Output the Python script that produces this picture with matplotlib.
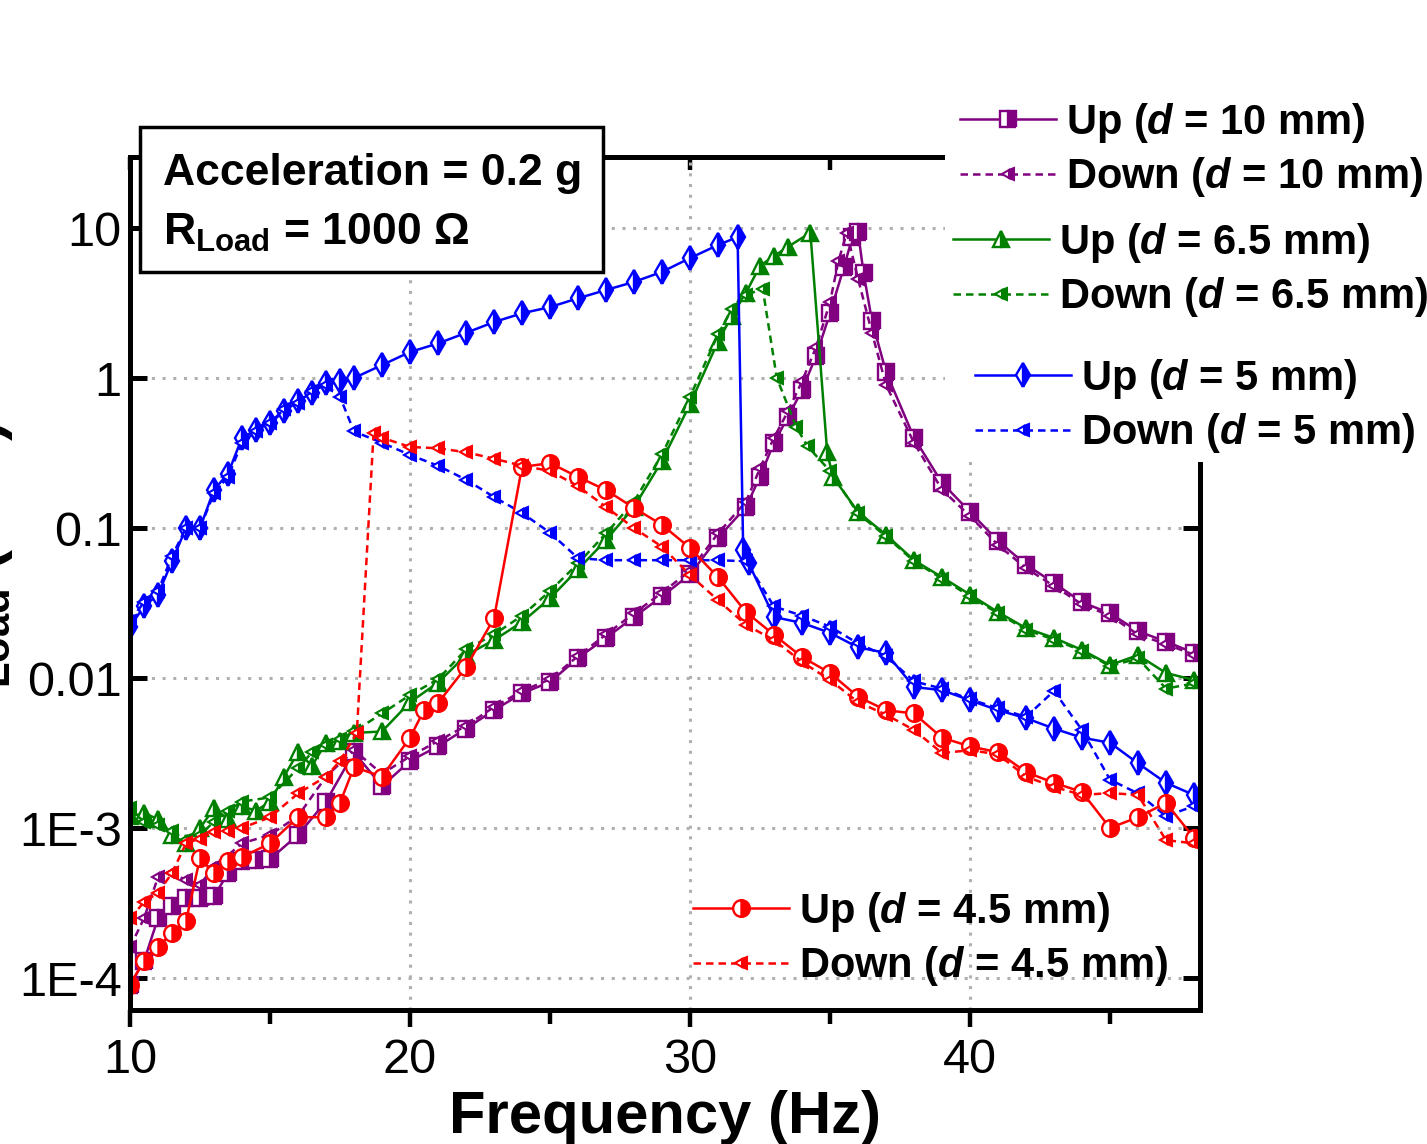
import numpy as np
import matplotlib
matplotlib.use('Agg')
import matplotlib.pyplot as plt
from matplotlib.patches import Rectangle
from matplotlib.ticker import FixedLocator, NullLocator

plt.rcParams['font.family'] = ['Liberation Sans', 'DejaVu Sans']
plt.rcParams['mathtext.fontset'] = 'custom'
plt.rcParams['mathtext.rm'] = 'Liberation Sans:bold'
plt.rcParams['mathtext.bf'] = 'Liberation Sans:bold'
plt.rcParams['mathtext.it'] = 'Liberation Sans:bold:italic'

# ---- data (P_load in mW vs frequency in Hz) ----
f_up10 = [10, 10.5, 11, 11.5, 12, 12.5, 13, 13.5, 14, 14.5, 15, 16, 17, 18, 19, 20, 21, 22, 23, 24, 25,
          26, 27, 28, 29, 30, 31, 32, 32.5, 33, 33.5, 34, 34.5, 35, 35.5, 35.8, 36, 36.2, 36.5, 37, 38,
          39, 40, 41, 42, 43, 44, 45, 46, 47, 48]
p_up10 = [9e-5, 1.3e-4, 2.5e-4, 3.0e-4, 3.4e-4, 3.4e-4, 3.5e-4, 5e-4, 6e-4, 6.1e-4, 6.2e-4, 9e-4,
          1.5e-3, 3.2e-3, 1.9e-3, 2.8e-3, 3.5e-3, 4.6e-3, 6.1e-3, 7.9e-3, 9.4e-3, 0.0136, 0.0185,
          0.0255, 0.035, 0.049, 0.086, 0.138, 0.22, 0.37, 0.55, 0.83, 1.4, 2.7, 5.5, 8.7, 9.4, 5.0,
          2.4, 1.1, 0.40, 0.20, 0.128, 0.082, 0.057, 0.043, 0.032, 0.027, 0.0205, 0.0175, 0.0147]

f_dn10 = [10, 10.5, 11, 11.5, 12, 12.5, 13, 14, 15, 16, 17, 18, 19, 20, 21, 22, 23, 24, 25, 26, 27,
          28, 29, 30, 31, 32, 32.5, 33, 33.5, 34, 34.5, 35, 35.3, 35.6, 36, 36.5, 37, 38, 39, 40, 41,
          42, 43, 44, 45, 46, 47, 48]
p_dn10 = [1.6e-4, 2.5e-4, 4.7e-4, 5e-4, 4.5e-4, 4.2e-4, 5.5e-4, 7.9e-4, 9e-4, 1.2e-3, 2.2e-3,
          3.3e-3, 2.3e-3, 3.0e-3, 3.8e-3, 4.8e-3, 6.4e-3, 8.2e-3, 0.0098, 0.014, 0.0195, 0.027,
          0.037, 0.052, 0.092, 0.15, 0.25, 0.40, 0.60, 0.95, 1.6, 3.2, 6.0, 9.3, 4.6, 2.0, 0.9,
          0.37, 0.18, 0.12, 0.077, 0.054, 0.041, 0.031, 0.026, 0.0195, 0.0168, 0.0143]

f_up65 = [10, 10.5, 11, 11.5, 12, 12.5, 13, 13.5, 14, 14.5, 15, 15.5, 16, 16.5, 17, 17.5, 18, 19, 20,
          21, 22, 23, 24, 25, 26, 27, 28, 29, 30, 31, 31.5, 32, 32.5, 33, 33.5, 34.3, 34.9, 35.1, 36,
          37, 38, 39, 40, 41, 42, 43, 44, 45, 46, 47, 48]
p_up65 = [1.2e-3, 1.25e-3, 1.15e-3, 9e-4, 7.9e-4, 1.0e-3, 1.35e-3, 1.15e-3, 1.4e-3, 1.3e-3, 1.5e-3,
          2.2e-3, 3.2e-3, 2.6e-3, 3.7e-3, 3.8e-3, 4.3e-3, 4.4e-3, 6.9e-3, 9.3e-3, 0.0142, 0.0179,
          0.0236, 0.034, 0.053, 0.083, 0.138, 0.28, 0.67, 1.75, 2.6, 3.7, 5.6, 6.5, 7.5, 9.3, 0.32,
          0.22, 0.128, 0.09, 0.061, 0.047, 0.036, 0.0275, 0.0215, 0.0185, 0.0154, 0.0122, 0.0142,
          0.0108, 0.0097]

f_dn65 = [10, 10.5, 11, 11.5, 12, 12.5, 13, 13.5, 14, 15, 16, 16.5, 17, 17.5, 18, 19, 20, 21, 22, 23,
          24, 25, 26, 27, 28, 29, 30, 31, 31.5, 32, 32.6, 33.1, 33.8, 34.2, 35, 36, 37, 38, 39, 40,
          41, 42, 43, 44, 45, 46, 47, 48]
p_dn65 = [1.35e-3, 1.1e-3, 1.05e-3, 9.5e-4, 8.3e-4, 9e-4, 1.1e-3, 1.3e-3, 1.5e-3, 1.6e-3, 2.5e-3,
          3.2e-3, 3.6e-3, 3.9e-3, 4.4e-3, 5.8e-3, 7.7e-3, 0.0098, 0.0155, 0.0195, 0.026, 0.038,
          0.058, 0.092, 0.15, 0.31, 0.75, 1.95, 2.9, 3.6, 3.9, 1.0, 0.47, 0.35, 0.24, 0.125, 0.088,
          0.06, 0.046, 0.035, 0.027, 0.021, 0.018, 0.0152, 0.012, 0.0135, 0.0085, 0.0092]

f_up5 = [10, 10.5, 11, 11.5, 12, 12.5, 13, 13.5, 14, 14.5, 15, 15.5, 16, 16.5, 17, 17.5, 18, 19, 20,
         21, 22, 23, 24, 25, 26, 27, 28, 29, 30, 31, 31.7, 31.9, 32.1, 33, 34, 35, 36, 37, 38, 39,
         40, 41, 42, 43, 44, 45, 46, 47, 48]
p_up5 = [0.022, 0.03, 0.036, 0.06, 0.10, 0.10, 0.18, 0.23, 0.40, 0.45, 0.50, 0.60, 0.70, 0.80, 0.93,
         0.95, 1.0, 1.22, 1.49, 1.7, 2.0, 2.36, 2.7, 2.97, 3.4, 3.86, 4.37, 5.1, 6.3, 7.7, 8.7,
         0.071, 0.058, 0.0255, 0.0233, 0.02, 0.016, 0.0147, 0.0087, 0.0083, 0.0071, 0.0061, 0.0054,
         0.0046, 0.004, 0.0037, 0.0027, 0.002, 0.00166]

f_dn5 = [10, 10.5, 11, 11.5, 12, 12.5, 13, 13.5, 14, 14.5, 15, 15.5, 16, 16.5, 17, 17.5, 18, 19, 20,
         21, 22, 23, 24, 25, 26, 27, 28, 29, 30, 31, 32, 33, 34, 35, 36, 37, 38, 39, 40, 41, 42, 43,
         44, 45, 46, 47, 48]
p_dn5 = [0.024, 0.032, 0.038, 0.065, 0.1, 0.1, 0.17, 0.22, 0.37, 0.44, 0.5, 0.62, 0.68, 0.82, 0.9,
         0.75, 0.44, 0.37, 0.307, 0.26, 0.21, 0.161, 0.126, 0.093, 0.063, 0.061, 0.061, 0.061,
         0.061, 0.061, 0.06, 0.03, 0.026, 0.022, 0.017, 0.014, 0.0095, 0.0085, 0.0072, 0.0063,
         0.0055, 0.0082, 0.0045, 0.0021, 0.0017, 0.0012, 0.0014]

f_up45 = [10, 10.5, 11, 11.5, 12, 12.5, 13, 13.5, 14, 15, 16, 17, 17.5, 18, 19, 20, 20.5, 21, 22, 23,
          24, 25, 26, 27, 28, 29, 30, 31, 32, 33, 34, 35, 36, 37, 38, 39, 40, 41, 42, 43, 44, 45,
          46, 47, 48]
p_up45 = [9e-5, 1.3e-4, 1.6e-4, 2e-4, 2.4e-4, 6.3e-4, 5.0e-4, 6e-4, 6.4e-4, 7.9e-4, 1.18e-3,
          1.18e-3, 1.47e-3, 2.55e-3, 2.2e-3, 4.0e-3, 6.1e-3, 6.8e-3, 0.0118, 0.025, 0.255, 0.271,
          0.219, 0.179, 0.136, 0.105, 0.0736, 0.047, 0.0275, 0.0194, 0.0138, 0.0108, 0.0075,
          0.0061, 0.0058, 0.004, 0.0035, 0.0032, 0.00236, 0.002, 0.00174, 0.001, 0.00118,
          0.00147, 8.6e-4]

f_dn45 = [10, 10.5, 11, 11.5, 12, 12.5, 13, 13.5, 14, 15, 16, 17, 17.5, 18.1, 18.7, 19, 20, 21, 22,
          23, 24, 25, 26, 27, 28, 29, 30, 31, 32, 33, 34, 35, 36, 37, 38, 39, 40, 41, 42, 43, 44,
          45, 46, 47, 48]
p_dn45 = [2.5e-4, 3.2e-4, 3.7e-4, 5e-4, 7.9e-4, 8.5e-4, 9.4e-4, 9.5e-4, 1.0e-3, 1.18e-3, 1.7e-3,
          2.2e-3, 2.8e-3, 4.3e-3, 0.43, 0.40, 0.347, 0.34, 0.32, 0.29, 0.26, 0.24, 0.19, 0.138,
          0.1, 0.075, 0.0486, 0.033, 0.0226, 0.0179, 0.0128, 0.0097, 0.0069, 0.0057, 0.0045,
          0.00316, 0.0033, 0.0031, 0.0022, 0.00188, 0.00166, 0.00171, 0.00166, 8.3e-4, 7.9e-4]

yticks = [1e-4, 1e-3, 1e-2, 1e-1, 1, 10]
yticklabels = ['1E-4', '1E-3', '0.01', '0.1', '1', '10']
xticks = [10, 20, 30, 40]

W, H = 1427, 1144
fig = plt.figure(figsize=(W / 100, H / 100), dpi=100)
ax = fig.add_axes([130 / W, 1 - 1010 / H, 1070 / W, 853 / H])

PURPLE, GREEN, BLUE, RED = '#800080', '#008000', '#0000ff', '#ff0000'


def up_line(f, p, c, m, label):
    return ax.plot(f, p, '-', color=c, lw=1.8, marker=m, ms=12, mew=1.7, mec=c, mfc=c,
                   fillstyle='right', markerfacecoloralt='white', label=label)[0]


def dn_line(f, p, c, label):
    return ax.plot(f, p, '--', color=c, lw=1.8, dashes=(3, 2), marker='<', ms=9, mew=1.5, mec=c,
                   mfc=c, fillstyle='right', markerfacecoloralt='white', label=label)[0]


h_up10 = up_line(f_up10, p_up10, PURPLE, 's', r'Up ($\mathit{d}$ = 10 mm)')
h_dn10 = dn_line(f_dn10, p_dn10, PURPLE, r'Down ($\mathit{d}$ = 10 mm)')
h_up65 = up_line(f_up65, p_up65, GREEN, '^', r'Up ($\mathit{d}$ = 6.5 mm)')
h_dn65 = dn_line(f_dn65, p_dn65, GREEN, r'Down ($\mathit{d}$ = 6.5 mm)')
h_up5 = up_line(f_up5, p_up5, BLUE, 'd', r'Up ($\mathit{d}$ = 5 mm)')
h_dn5 = dn_line(f_dn5, p_dn5, BLUE, r'Down ($\mathit{d}$ = 5 mm)')
h_up45 = up_line(f_up45, p_up45, RED, 'o', r'Up ($\mathit{d}$ = 4.5 mm)')
h_dn45 = dn_line(f_dn45, p_dn45, RED, r'Down ($\mathit{d}$ = 4.5 mm)')

ax.set_yscale('log')
ax.set_xlim(10, 10 + 1070 / 28)
ax.set_ylim(10 ** (1 - 782 / 150), 10 ** (1 + 71 / 150))
ax.yaxis.set_major_locator(FixedLocator(yticks))
ax.yaxis.set_minor_locator(NullLocator())
ax.set_yticklabels(yticklabels)
ax.set_xticks(xticks)
ax.set_xticks([15, 25, 35, 45], minor=True)

for s in ax.spines.values():
    s.set_linewidth(3.6)
ax.tick_params(axis='y', which='major', direction='in', length=12, width=3.6, left=True,
               right=True, labelsize=35, pad=6)
ax.tick_params(axis='x', which='major', direction='out', length=12, width=3.2, labelsize=35, pad=8)
ax.tick_params(axis='x', which='minor', direction='out', length=10, width=3.2)
sec = ax.secondary_xaxis('top')
sec.set_xticks(xticks)
sec.set_xticks([15, 25, 35, 45], minor=True)
sec.tick_params(which='both', direction='in', length=9, width=3.2, labeltop=False)
sec.spines['top'].set_linewidth(3.6)

ax.grid(True, which='major', color='#b0b0b0', linestyle=(0, (1, 2.5)), linewidth=2.2)

fig.text(665 / W, (H - 1133) / H, 'Frequency (Hz)', fontsize=43, fontweight='bold',
         ha='center', va='baseline')
fig.text(15 / W, 1 - 575 / H, r'P$_{\mathrm{Load}}$ (mW)', fontsize=43, fontweight='bold',
         rotation=90, ha='right', va='center')

# condition box
fig.patches.append(Rectangle((140 / W, 1 - 272 / H), 463 / W, 145 / H, transform=fig.transFigure,
                             facecolor='white', edgecolor='black', lw=2.5, zorder=2.5))
fig.text(163 / W, 1 - 185 / H, 'Acceleration = 0.2 g', fontsize=32, fontweight='bold',
         va='baseline', zorder=3)
fig.text(163 / W, 1 - 245 / H, r'R$_{\mathrm{Load}}$ = 1000 Ω', fontsize=32, fontweight='bold',
         va='baseline', zorder=3)

# white area behind the outside legends
fig.patches.append(Rectangle((945 / W, 1 - 462 / H), (W - 945) / W, 367 / H,
                             transform=fig.transFigure, facecolor='white', edgecolor='none',
                             zorder=2))


def add_legend(handles, x, yc):
    leg = fig.legend(handles=handles, loc='center left', bbox_to_anchor=(x / W, 1 - yc / H),
                     frameon=False, borderpad=0, borderaxespad=0,
                     handlelength=2.3, handletextpad=0.25, labelspacing=0.25,
                     prop={'weight': 'bold', 'size': 30})
    leg.set_zorder(6)
    return leg


add_legend([h_up10, h_dn10], 960, 150)
add_legend([h_up65, h_dn65], 953, 270)
add_legend([h_up5, h_dn5], 975, 406)
add_legend([h_up45, h_dn45], 693, 939)

fig.savefig('out.png', dpi=100)
